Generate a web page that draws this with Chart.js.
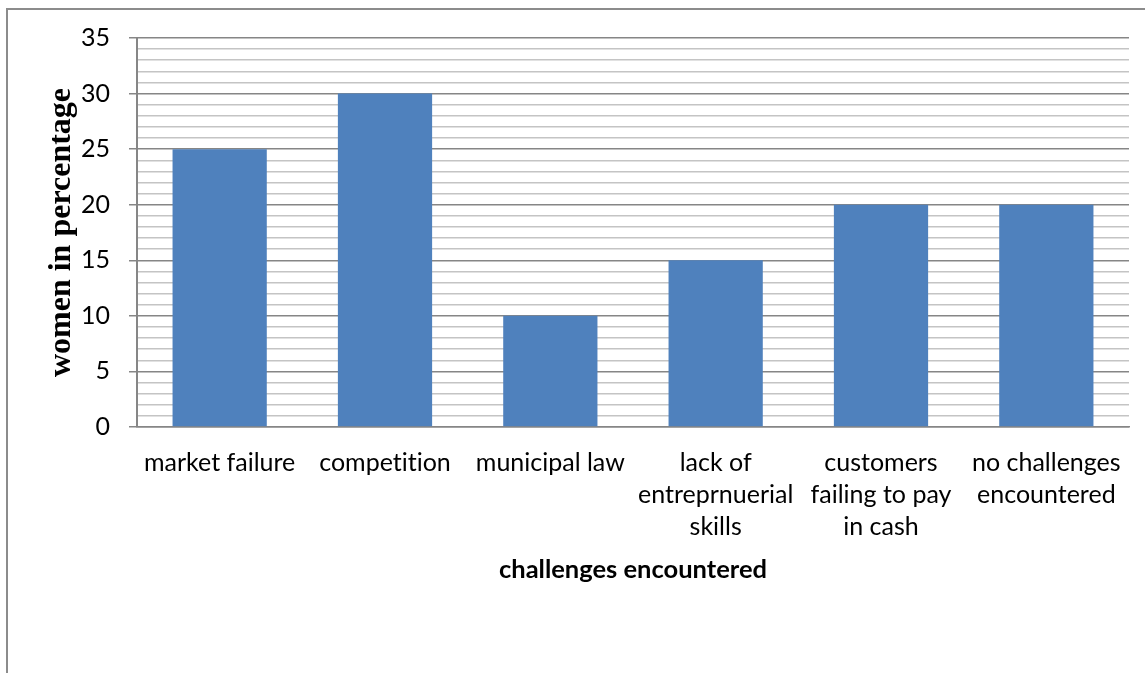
<!DOCTYPE html>
<html>
<head>
<meta charset="utf-8">
<script src="https://cdn.jsdelivr.net/npm/chart.js@4"></script>
<style>
  html, body { margin: 0; padding: 0; background: #fff; }
  #wrap { position: relative; width: 1145px; height: 673px; overflow: hidden; }
  #frame { position: absolute; left: 6px; top: 8px; width: 1200px; height: 700px;
           border-top: 2px solid #8c8c8c; border-left: 2px solid #8c8c8c; box-sizing: border-box; }
  canvas { position: absolute; left: 0; top: 0; }
</style>
</head>
<body>
<div id="wrap">
  <div id="frame"></div>
  <canvas id="c" width="1145" height="673"></canvas>
</div>
<script>
const categories = [
  ['market failure'],
  ['competition'],
  ['municipal law'],
  ['lack of', 'entreprnuerial', 'skills'],
  ['customers', 'failing to pay', 'in cash'],
  ['no challenges', 'encountered']
];
const values = [25, 30, 10, 15, 20, 20];
const yMin = 0, yMax = 35, yMinorStep = 1, yMajorStep = 5;
const yTitle = 'women in percentage';
const xTitle = 'challenges encountered';

const labelFont = 'Lato, "Open Sans", sans-serif';

const noLigatures = {
  id: 'noLigatures',
  beforeDraw(chart) {
    const ctx = chart.ctx;
    if ('textRendering' in ctx) ctx.textRendering = 'optimizeSpeed';
  }
};

new Chart(document.getElementById('c'), {
  type: 'bar',
  plugins: [noLigatures],
  data: {
    labels: categories,
    datasets: [{
      data: values,
      backgroundColor: '#4F81BD',
      borderWidth: 0,
      categoryPercentage: 1,
      barPercentage: 0.57
    }]
  },
  options: {
    responsive: false,
    animation: false,
    events: [],
    layout: { padding: { left: 0, top: 38, right: 16, bottom: 0 } },
    plugins: { legend: { display: false }, tooltip: { enabled: false } },
    scales: {
      x: {
        grid: { display: false, drawTicks: false },
        border: { display: true, color: '#868686', width: 1.5 },
        ticks: {
          color: '#000',
          padding: 20,
          maxRotation: 0,
          autoSkip: false,
          font: { family: labelFont, size: 25, lineHeight: 32 / 25 }
        },
        title: {
          display: true,
          text: xTitle,
          color: '#000',
          padding: { top: 0, bottom: 88 },
          font: { family: labelFont, size: 25.5, weight: 'bold', lineHeight: 1.2 }
        },
        afterFit: (s) => { s.height = 246; }
      },
      y: {
        min: yMin,
        max: yMax,
        grid: {
          color: (ctx) => (ctx.tick && ctx.tick.value % yMajorStep === 0) ? '#868686' : '#c4c4c4',
          tickColor: (ctx) => (ctx.tick && ctx.tick.value % yMajorStep === 0) ? '#868686' : 'rgba(0,0,0,0)',
          lineWidth: 1.5,
          tickLength: 8
        },
        border: { display: true, color: '#868686', width: 2 },
        ticks: {
          stepSize: yMinorStep,
          autoSkip: false,
          color: '#000',
          padding: 19,
          font: { family: labelFont, size: 25 },
          callback: (v) => (v % yMajorStep === 0 ? String(v) : '')
        },
        title: {
          display: true,
          text: yTitle,
          color: '#000',
          padding: { top: 43, bottom: 0 },
          font: { family: '"Liberation Serif", "Times New Roman", serif', size: 32, weight: 'bold', lineHeight: 1.2 }
        },
        afterFit: (s) => { s.width = 137; }
      }
    }
  }
});
</script>
</body>
</html>
